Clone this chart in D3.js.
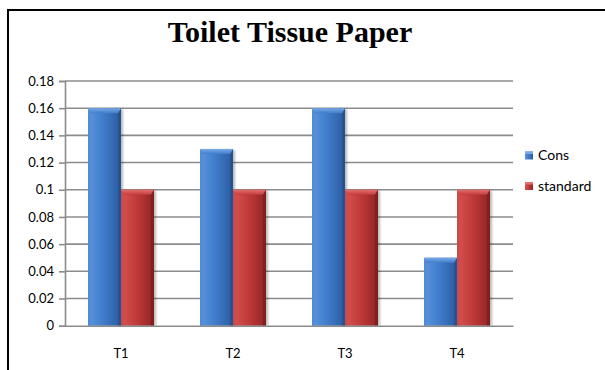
<!DOCTYPE html>
<html>
<head>
<meta charset="utf-8">
<script src="https://cdn.jsdelivr.net/npm/d3@7/dist/d3.min.js"></script>
<style>
  html, body { margin: 0; padding: 0; background: #fff; }
  svg { display: block; }
</style>
</head>
<body>
<svg id="chart" width="605" height="370"></svg>
<script>
// Chart data
const categories = ["T1", "T2", "T3", "T4"];
const seriesNames = ["Cons", "standard"];
const consValues = [0.16, 0.13, 0.16, 0.05];
const standardValues = [0.1, 0.1, 0.1, 0.1];
const yTickValues = [0, 0.02, 0.04, 0.06, 0.08, 0.1, 0.12, 0.14, 0.16, 0.18];
const yTickLabels = ["0", "0.02", "0.04", "0.06", "0.08", "0.1", "0.12", "0.14", "0.16", "0.18"];
const titleText = "Toilet Tissue Paper";

const seriesValues = [consValues, standardValues];
const rows = categories.map((c, i) => ({
  cat: c,
  vals: seriesNames.map((s, j) => ({ series: s, value: seriesValues[j][i] }))
}));

const svg = d3.select("#chart");
const W = 605, H = 370;
const plot = { left: 65, right: 513, top: 81, bottom: 325.7 };

// Colour palettes for the bevelled bars
const palette = {
  Cons:     { light: "#5b95dc", mid: "#3f7dcc", dark: "#2b5b9e", top: "#7aaae6", edgeL: "#4f8ad6", edgeR: "#24518f" },
  standard: { light: "#d65252", mid: "#c33b3b", dark: "#8e2424", top: "#e27070", edgeL: "#cc4747", edgeR: "#7f1f1f" }
};

const defs = svg.append("defs");
seriesNames.forEach((s, i) => {
  const p = palette[s];
  const g = defs.append("linearGradient").attr("id", "face" + i)
    .attr("x1", "0").attr("x2", "1").attr("y1", "0").attr("y2", "0");
  g.append("stop").attr("offset", "0%").attr("stop-color", p.light);
  g.append("stop").attr("offset", "45%").attr("stop-color", p.mid);
  g.append("stop").attr("offset", "100%").attr("stop-color", p.dark);
  const t = defs.append("linearGradient").attr("id", "top" + i)
    .attr("x1", "0").attr("x2", "0").attr("y1", "0").attr("y2", "1");
  t.append("stop").attr("offset", "0%").attr("stop-color", p.top);
  t.append("stop").attr("offset", "100%").attr("stop-color", p.mid);
});
const blur = defs.append("filter").attr("id", "shadow")
  .attr("x", "-20%").attr("y", "-10%").attr("width", "160%").attr("height", "120%");
blur.append("feGaussianBlur").attr("stdDeviation", 1.2);

// Frame edges
svg.append("line").attr("x1", 8).attr("x2", 8).attr("y1", 9).attr("y2", H)
  .attr("stroke", "#000").attr("stroke-width", 2);
svg.append("line").attr("x1", 7).attr("x2", W).attr("y1", 10).attr("y2", 10)
  .attr("stroke", "#000").attr("stroke-width", 2);

// Title
svg.append("text")
  .attr("x", 290).attr("y", 42)
  .attr("text-anchor", "middle")
  .attr("font-family", "'Liberation Serif', 'Times New Roman', serif")
  .attr("font-weight", "bold")
  .attr("font-size", 30)
  .attr("fill", "#000")
  .text(titleText);

// Scales
const x0 = d3.scaleBand().domain(categories).range([plot.left, plot.right]).padding(0);
const x1 = d3.scaleBand().domain(seriesNames).range([0, x0.bandwidth()])
  .paddingInner(0).paddingOuter(0.7);
const y = d3.scaleLinear().domain([0, 0.18]).range([plot.bottom, plot.top]);

const labelFont = "Lato, 'Open Sans', sans-serif";

// Gridlines
svg.append("g")
  .selectAll("line")
  .data(yTickValues.filter(v => v > 0))
  .join("line")
  .attr("x1", plot.left).attr("x2", plot.right)
  .attr("y1", d => y(d)).attr("y2", d => y(d))
  .attr("stroke", "#8c8c8c").attr("stroke-width", 1.6);

// Y axis
const yAxis = d3.axisLeft(y)
  .tickValues(yTickValues)
  .tickFormat((d, i) => yTickLabels[i])
  .tickSize(6).tickPadding(5);
const yg = svg.append("g").attr("transform", `translate(${plot.left},0)`).call(yAxis);
yg.select(".domain").attr("stroke", "#8c8c8c").attr("stroke-width", 1.6);
yg.selectAll(".tick line").attr("stroke", "#8c8c8c").attr("stroke-width", 1.6);
yg.selectAll(".tick text")
  .attr("font-family", labelFont).attr("font-size", 13).attr("fill", "#000");

// Bars
const groups = svg.append("g").selectAll("g")
  .data(rows).join("g")
  .attr("transform", d => `translate(${x0(d.cat)},0)`);

const bars = groups.selectAll("g.bar")
  .data(d => d.vals).join("g").attr("class", "bar");

const bw = x1.bandwidth();
const bev = 5;

bars.append("rect")
  .attr("x", d => x1(d.series) + 2)
  .attr("y", d => y(d.value) + 1)
  .attr("width", bw)
  .attr("height", d => y(0) - y(d.value) - 1)
  .attr("fill", "rgba(0,0,0,0.28)")
  .attr("filter", "url(#shadow)");

bars.append("rect")
  .attr("x", d => x1(d.series))
  .attr("y", d => y(d.value))
  .attr("width", bw)
  .attr("height", d => y(0) - y(d.value))
  .attr("fill", d => `url(#face${seriesNames.indexOf(d.series)})`);

// left bevel strip
bars.append("path")
  .attr("d", d => {
    const xl = x1(d.series), yt = y(d.value), yb = y(0);
    return `M${xl},${yt}L${xl + 2.5},${yt + bev}L${xl + 2.5},${yb}L${xl},${yb}Z`;
  })
  .attr("fill", d => palette[d.series].edgeL).attr("opacity", 0.9);

// right bevel strip
bars.append("path")
  .attr("d", d => {
    const xr = x1(d.series) + bw, yt = y(d.value), yb = y(0);
    return `M${xr},${yt}L${xr - 3},${yt + bev}L${xr - 3},${yb}L${xr},${yb}Z`;
  })
  .attr("fill", d => palette[d.series].edgeR).attr("opacity", 0.85);

// top bevel
bars.append("path")
  .attr("d", d => {
    const xl = x1(d.series), xr = xl + bw, yt = y(d.value);
    return `M${xl},${yt}L${xr},${yt}L${xr - 3},${yt + bev}L${xl + 2.5},${yt + bev}Z`;
  })
  .attr("fill", d => `url(#top${seriesNames.indexOf(d.series)})`);

// X axis baseline and labels
const xAxis = d3.axisBottom(x0).tickSize(0).tickPadding(23);
const xg = svg.append("g").attr("transform", `translate(0,${y(0)})`).call(xAxis);
xg.select(".domain").attr("stroke", "#8c8c8c").attr("stroke-width", 1.6);
xg.selectAll(".tick text")
  .attr("font-family", labelFont).attr("font-size", 13).attr("fill", "#000");

// Legend
const legend = svg.append("g").attr("transform", "translate(525,0)");
const legendY = [155.5, 186];
seriesNames.forEach((s, i) => {
  const row = legend.append("g").attr("transform", `translate(0,${legendY[i]})`);
  row.append("rect").attr("x", 0).attr("y", -4).attr("width", 8).attr("height", 8)
    .attr("fill", `url(#face${i})`);
  row.append("rect").attr("x", 0).attr("y", -4).attr("width", 8).attr("height", 2.5)
    .attr("fill", palette[s].top);
  row.append("text").attr("x", 13).attr("y", 0).attr("dy", "0.35em")
    .attr("font-family", labelFont).attr("font-size", 14).attr("fill", "#000")
    .text(s);
});
</script>
</body>
</html>
